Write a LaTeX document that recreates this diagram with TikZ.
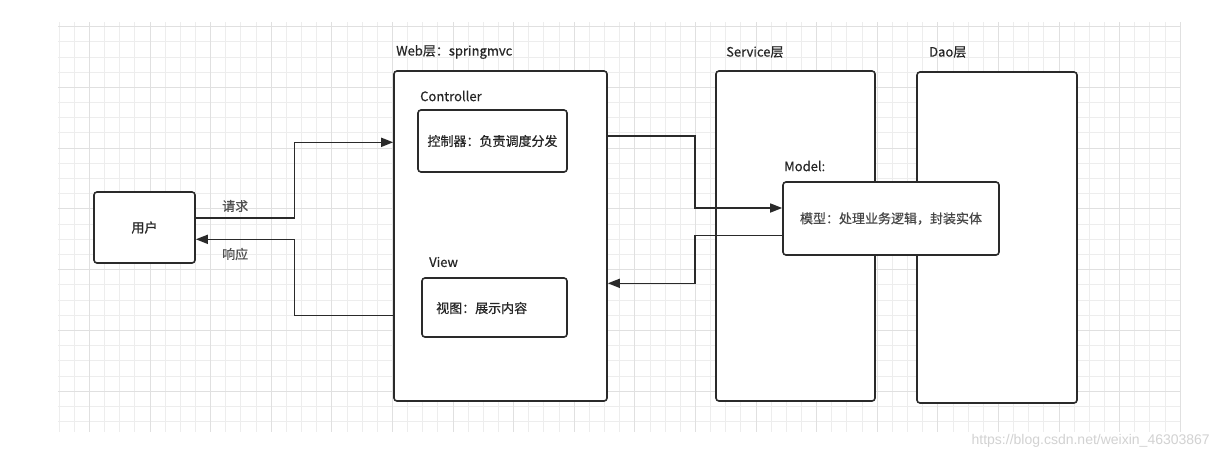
\documentclass[tikz,border=0pt]{standalone}
\usepackage{fontspec}
\setmainfont{Noto Sans CJK SC}[FakeBold=0.5]
\newfontfamily\boldcjk{Noto Sans CJK SC}[FakeBold=1.2]
\newfontfamily\wmfont{Liberation Sans}
\usetikzlibrary{arrows.meta}
\definecolor{ink}{HTML}{2A2A2A}
\definecolor{txt}{HTML}{262626}
\definecolor{gridminor}{HTML}{EDEDED}
\definecolor{gridmajor}{HTML}{E0E0E0}
\definecolor{wm}{HTML}{D2D2D2}
\tikzset{
  box/.style={draw=ink, line width=1.6pt, rounded corners=3pt, fill=white, inner sep=0pt,
    font=\fontsize{13}{15}\selectfont, text=txt},
  lbl/.style={inner sep=0pt, anchor=west, font=\fontsize{13}{15}\selectfont, text=txt},
  arr/.style={draw=ink, line width=1.5pt, -{Triangle[length=12pt,width=9pt]}},
  minorline/.style={draw=gridminor, line width=1pt},
  majorline/.style={draw=gridmajor, line width=1pt}
}
\begin{document}
\begin{tikzpicture}[x=1pt,y=-1pt]
\useasboundingbox (0,0) rectangle (1215,459);
\fill[white] (0,0) rectangle (1215,459);
% grid
\begin{scope}
  \clip (58,22) rectangle (1181,432);
  \foreach \k in {0,...,74} {\pgfmathsetmacro\gx{round(58.7+15.15*\k)+0.5}
    \draw[minorline] (\gx,22) -- (\gx,432);}
  \foreach \k in {0,...,26} {\pgfmathsetmacro\gy{round(26.1+15.2*\k)+0.5}
    \draw[minorline] (58,\gy) -- (1181,\gy);}
  \foreach \k in {0,...,18} {\pgfmathsetmacro\gx{round(58.7+15.15*(4*\k+2))+0.5}
    \draw[majorline] (\gx,22) -- (\gx,432);}
  \foreach \k in {0,...,6} {\pgfmathsetmacro\gy{round(26.1+15.2*4*\k)+0.5}
    \draw[majorline] (58,\gy) -- (1181,\gy);}
\end{scope}
% boxes
\node[box, minimum width=101pt, minimum height=71pt, font=\boldcjk\fontsize{13}{15}\selectfont] (user) at (144.5,227.5) {用户};
\node[box, minimum width=213pt, minimum height=330pt] (web) at (500.5,236) {};
\node[box, minimum width=149pt, minimum height=62pt] (ctrl) at (492.5,141) {控制器：负责调度分发};
\node[box, minimum width=145pt, minimum height=59pt] (view) at (494.5,307.5) {};
\node[lbl] (viewtext) at (436,308) {视图：展示内容};
\node[box, minimum width=159pt, minimum height=330pt] (service) at (795.5,236) {};
\node[box, minimum width=160pt, minimum height=331pt] (dao) at (997,237.5) {};
\node[box, minimum width=216pt, minimum height=73pt, text=txt!85] (model) at (891,218.5) {模型：处理业务逻辑，封装实体};
% labels
\node[lbl] (weblbl) at (396,52) {Web层：springmvc};
\node[lbl] (ctrllbl) at (420,96) {Controller};
\node[lbl] (viewlbl) at (429,262) {View};
\node[lbl] (servlbl) at (726,52) {Service层};
\node[lbl] (daolbl) at (929,52) {Dao层};
\node[lbl] (modellbl) at (784,166) {Model:};
\node[lbl, text=txt!80] (reqlbl) at (222,206) {请求};
\node[lbl, text=txt!80] (resplbl) at (222,254) {响应};
% connectors
\coordinate (reqbend) at (294.5,218);
\coordinate (respbend) at (294.5,315.7);
\coordinate (cmbend) at (695,136);
\coordinate (mvbend) at (695,235.7);
\draw[arr] ([yshift=9.5pt]user.east) -- (reqbend) |- ([yshift=93.7pt]web.west);
\draw[arr] ([yshift=-79.7pt]web.west) -- (respbend) |- ([yshift=-11.8pt]user.east);
\draw[arr] ([yshift=100pt]web.east) -- (cmbend) |- ([yshift=10.5pt]model.west);
\draw[arr] ([yshift=-17.2pt]model.west) -- (mvbend) |- ([yshift=-47.3pt]web.east);
% watermark
\node[inner sep=0pt, anchor=east, text=wm, font=\wmfont\fontsize{14}{16}\selectfont] (wmk) at (1210,441) {https://blog.csdn.net/weixin\_46303867};
\end{tikzpicture}
\end{document}
